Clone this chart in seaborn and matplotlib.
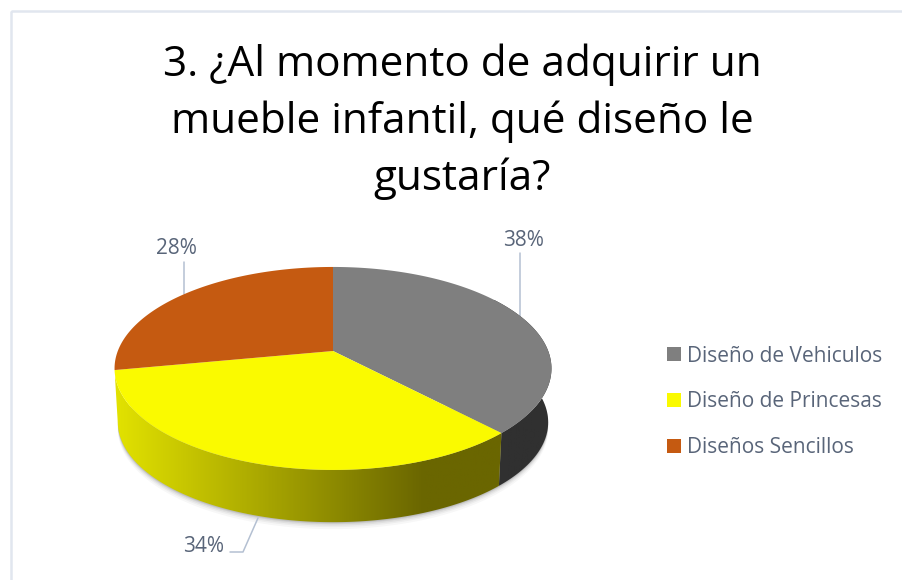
import numpy as np
import matplotlib
matplotlib.use('Agg')
import matplotlib.pyplot as plt
from matplotlib.patches import Polygon, Rectangle
from matplotlib.path import Path
from matplotlib.transforms import Transform, Affine2D
import seaborn as sns

title = '3. ¿Al momento de adquirir un\nmueble infantil, qué diseño le\ngustaría?'
labels = ['Diseño de Vehiculos', 'Diseño de Princesas', 'Diseños Sencillos']
values = [38, 34, 28]
pct_labels = ['38%', '34%', '28%']
colors = ['#7f7f7f', '#fafa00', '#c55a11']
side_dark = ['#303030', '#6a6600', '#8a3f0c']
side_light = ['#343434', '#e2e200', '#8a3f0c']

text_col = '#596579'
line_col = '#b4c0d2'

sns.set_theme(style='white')
plt.rcParams['font.family'] = ['Open Sans', 'DejaVu Sans']

# pie is tilted with some perspective, so the apex sits above the ellipse middle
APEX = (333, 351)
PX, PY, PERSP = 215.2, 98.5, 0.172
DEPTH, SHRINK = 54, 0.985


def project(u, v, base=False):
    d = 1 + PERSP * v
    x = PX * u / d
    y = -PY * v / d
    if base:
        return APEX[0] + SHRINK * x, APEX[1] + SHRINK * y + DEPTH
    return APEX[0] + x, APEX[1] + y


class Tilt(Transform):
    input_dims = output_dims = 2

    def transform_non_affine(self, xy):
        x, y = project(xy[:, 0], xy[:, 1])
        return np.column_stack([x, y])

    def transform_path_non_affine(self, path):
        # flatten the curves first, scaled up so agg keeps enough points
        big = path.transformed(Affine2D().scale(2000))
        pts = big.to_polygons(closed_only=True)[0] / 2000
        return Path(self.transform_non_affine(pts), closed=True)


fig = plt.figure(figsize=(9.02, 5.8), dpi=100)
ax = fig.add_axes([0, 0, 1, 1])

wedges, _ = ax.pie(values, colors=colors, startangle=90, counterclock=False,
                   labels=None, wedgeprops={'linewidth': 0})
ax.set_aspect('auto')
ax.set_xlim(0, 902)
ax.set_ylim(580, 0)
ax.axis('off')

for w in wedges:
    w.set_transform(Tilt() + ax.transData)
    w.set_clip_on(False)
    w.set_zorder(5)

# shadow below the base
t = np.radians(np.linspace(180, 360, 200))
sx, sy = project(np.cos(t), np.sin(t), base=True)
for grow, a in zip([7, 5, 3.5, 2, 1], [0.03, 0.04, 0.05, 0.07, 0.09]):
    ax.add_patch(Polygon(np.column_stack([sx, sy + grow]), closed=True, fc='black',
                         alpha=a, lw=0, zorder=1))

# side walls, only the front part shows
edges = np.cumsum([0] + values) / sum(values) * 360
for i, w in enumerate(wedges):
    a0 = 90 - edges[i]
    a1 = 90 - edges[i + 1]
    tt = np.radians(np.linspace(a0, a1, 120))
    tt = tt[(np.sin(tt) < 0) | (np.cos(tt) > 0)]
    if i == 2 or len(tt) < 2:
        continue
    x0, y0 = project(np.cos(tt), np.sin(tt))
    x1, y1 = project(np.cos(tt), np.sin(tt), base=True)
    poly = Polygon(np.column_stack([np.r_[x0, x1[::-1]], np.r_[y0, y1[::-1]]]),
                   closed=True, fc='none', lw=0, transform=ax.transData)
    ax.add_patch(poly)
    cmap = sns.blend_palette([side_light[i], side_dark[i]], as_cmap=True)
    ramp = np.clip(np.linspace(0, 1.25, 256), 0, 1).reshape(1, -1)
    im = ax.imshow(ramp, cmap=cmap, aspect='auto',
                   extent=[min(x0.min(), x1.min()), max(x0.max(), x1.max()), 560, 300], zorder=2)
    im.set_clip_path(poly)
ax.set_xlim(0, 902)
ax.set_ylim(580, 0)

# outer frame
ax.add_patch(Rectangle((10.5, 11), 1000, 1000, fc='none', ec='#e1e6ef', lw=1.8, zorder=0))

ax.text(462, 122, title, ha='center', va='center', fontsize=30.4, color='black',
        linespacing=1.44, zorder=6)

# percentage labels with leader lines
ax.text(524, 241, pct_labels[0], ha='center', va='center', fontsize=15, color=text_col)
ax.text(204, 547, pct_labels[1], ha='center', va='center', fontsize=15, color=text_col)
ax.text(176, 249, pct_labels[2], ha='center', va='center', fontsize=15, color=text_col)
ax.plot([519.5, 519.5], [253, 316], color=line_col, lw=1.1, zorder=1)
ax.plot([183.5, 183.5], [262, 294], color=line_col, lw=1.1, zorder=1)
ax.plot([230, 243, 258], [552, 552, 518], color=line_col, lw=1.1, zorder=1)

leg = ax.legend(wedges, labels, loc='upper left', bbox_to_anchor=(667, 345.5),
                bbox_transform=ax.transData, frameon=False, fontsize=15,
                handlelength=0.67, handleheight=0.67, handletextpad=0.3,
                labelspacing=1.19, borderpad=0, borderaxespad=0, labelcolor=text_col)

fig.savefig('out.png', dpi=100)
